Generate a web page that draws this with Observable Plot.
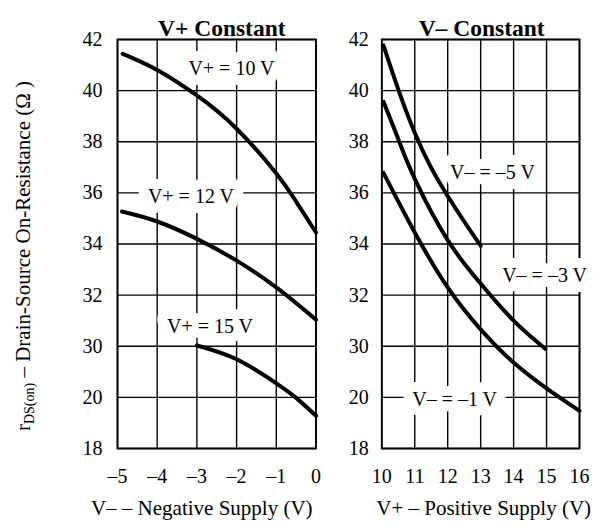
<!DOCTYPE html>
<html><head><meta charset="utf-8">
<script src="https://cdn.jsdelivr.net/npm/d3@7"></script>
<script src="https://cdn.jsdelivr.net/npm/@observablehq/plot@0.6"></script>
<style>
body{margin:0;background:#fff}
#chart{display:flex;align-items:flex-start;width:597px;height:527px;background:#fff}
#chart svg{flex:none}
</style>
</head><body><div id="chart"></div>
<script>
// ---- Data ----
const yDomain = [26, 42];
const yTickValues = [26, 28, 30, 32, 34, 36, 38, 40, 42];
const yTickLabels = ["18", "20", "30", "32", "34", "36", "38", "40", "42"];
const xTicksLeft = [-5, -4, -3, -2, -1, 0];
const xTicksRight = [10, 11, 12, 13, 14, 15, 16];

// Left panel: V+ constant, x = V– negative supply
const negSupply10 = [-4.87, -4, -3, -2, -1, -0.5, 0];
const rds10 = [41.44, 40.81, 39.81, 38.51, 36.76, 35.66, 34.45];
const negSupply12 = [-4.89, -4, -3, -2, -1, 0];
const rds12 = [35.27, 34.88, 34.2, 33.35, 32.3, 31.04];
const negSupply15 = [-3, -2, -1, -0.5, 0];
const rds15 = [30.03, 29.49, 28.55, 27.98, 27.28];

// Right panel: V– constant, x = V+ positive supply
const posSupply5 = [10.05, 10.5, 11, 11.5, 12, 12.5, 13];
const rds5 = [41.77, 40.05, 38.35, 36.98, 35.88, 34.88, 33.93];
const posSupply3 = [10.05, 10.5, 11, 12, 13, 14, 14.96];
const rds3 = [39.56, 38.1, 36.55, 34.15, 32.45, 31.0, 29.9];
const posSupply1 = [10.05, 11, 12, 13, 14, 15, 16];
const rds1 = [36.78, 34.45, 32.3, 30.66, 29.36, 28.35, 27.47];

const leftNames = ["V+ = 10 V", "V+ = 12 V", "V+ = 15 V"];
const leftLabelX = [-2.13, -3.15, -2.67];
const leftLabelY = [40.87, 35.85, 30.78];
const rightNames = ["V\u2013 = \u20135 V", "V\u2013 = \u20133 V", "V\u2013 = \u20131 V"];
const rightLabelX = [13.36, 14.94, 12.21];
const rightLabelY = [36.78, 32.76, 27.93];

const titles = ["V+ Constant", "V\u2013 Constant"];
const xLabels = ["V\u2013 \u2013 Negative Supply (V)", "V+ \u2013 Positive Supply (V)"];
const yLabelMain = "r";
const yLabelSub = "DS(on)";
const yLabelRest = " \u2013 Drain-Source On-Resistance (\u03A9 )";

// ---- Build tables ----
function series(name, xs, ys) { return xs.map((x, i) => ({name, x, y: ys[i]})); }
const leftData = [
  ...series(leftNames[0], negSupply10, rds10),
  ...series(leftNames[1], negSupply12, rds12),
  ...series(leftNames[2], negSupply15, rds15)
];
const rightData = [
  ...series(rightNames[0], posSupply5, rds5),
  ...series(rightNames[1], posSupply3, rds3),
  ...series(rightNames[2], posSupply1, rds1)
];
const leftLabels = leftNames.map((t, i) => ({text: t, x: leftLabelX[i], y: leftLabelY[i]}));
const rightLabels = rightNames.map((t, i) => ({text: t, x: rightLabelX[i], y: rightLabelY[i]}));

const yTickFmt = d => yTickLabels[yTickValues.indexOf(d)];
const FONT = "'Liberation Serif','Times New Roman',serif";

function panel({width, marginLeft, marginRight, domain, xt, fmt, data, labels, yPad, title, titleDx, xLabel, xLabelDx}) {
  return Plot.plot({
    width, height: 527, marginLeft, marginRight, marginTop: 39, marginBottom: 79,
    style: {fontFamily: FONT, fontSize: "20px", background: "white", color: "black"},
    x: {domain, ticks: xt, tickFormat: fmt, tickSize: 0, tickPadding: 20, label: null},
    y: {domain: yDomain, ticks: yTickValues, tickFormat: yTickFmt, tickSize: 0, tickPadding: yPad, label: null},
    marks: [
      Plot.ruleX(xt, {stroke: "#000", strokeWidth: 1.4, strokeOpacity: 1}),
      Plot.ruleY(yTickValues, {stroke: "#000", strokeWidth: 1.4, strokeOpacity: 1}),
      Plot.frame({stroke: "black", strokeWidth: 1.8}),
      Plot.line(data, {x: "x", y: "y", z: "name", curve: "natural", stroke: "black", strokeWidth: 4}),
      Plot.text(labels, {x: "x", y: "y", text: "text", fill: "black", stroke: "white", strokeWidth: 20, strokeLinejoin: "round", fontSize: 20, fontFamily: FONT, textAnchor: "middle"}),
      Plot.text([title], {frameAnchor: "top", dx: titleDx, dy: -20, text: d => d, fill: "black", fontWeight: "bold", fontSize: 23.5, fontFamily: FONT}),
      Plot.text([xLabel], {frameAnchor: "bottom", dx: xLabelDx, dy: 66, text: d => d, fill: "black", fontSize: 21, fontFamily: FONT})
    ]
  });
}

const chart = document.getElementById("chart");

const left = panel({width: 330, marginLeft: 117, marginRight: 14.5, domain: [-5, 0], xt: xTicksLeft,
  fmt: d => d < 0 ? "\u2013" + (-d) : String(d), data: leftData, labels: leftLabels, yPad: 15,
  title: titles[0], titleDx: 5, xLabel: xLabels[0], xLabelDx: -15});
chart.appendChild(left);

const right = panel({width: 267, marginLeft: 51.3, marginRight: 18, domain: [10, 16], xt: xTicksRight,
  fmt: d => String(d), data: rightData, labels: rightLabels, yPad: 13,
  title: titles[1], titleDx: 1, xLabel: xLabels[1], xLabelDx: 3});
chart.appendChild(right);

// rotated y-axis title with subscript, inside the left SVG
const yl = d3.select(left).append("text")
  .attr("transform", "translate(30,256) rotate(-90)")
  .attr("text-anchor", "middle")
  .attr("font-family", FONT)
  .attr("font-size", 21)
  .attr("fill", "black");
yl.append("tspan").text(yLabelMain);
yl.append("tspan").attr("font-size", 14).attr("dy", 4).text(yLabelSub);
yl.append("tspan").attr("dy", -4).text(yLabelRest);
</script></body></html>
